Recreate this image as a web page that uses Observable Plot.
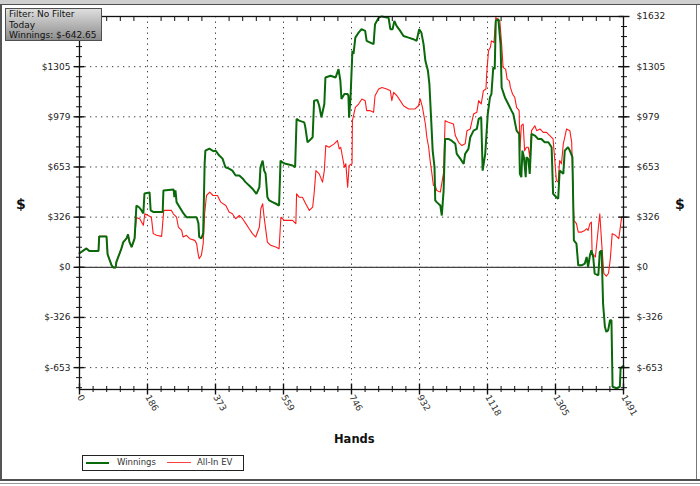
<!DOCTYPE html>
<html><head><meta charset="utf-8">
<script src="https://cdn.jsdelivr.net/npm/d3@7"></script>
<script src="https://cdn.jsdelivr.net/npm/@observablehq/plot@0.6"></script>
<style>
html,body{margin:0;padding:0;background:#fff;}
#wrap{position:relative;width:700px;height:486px;overflow:hidden;font-family:"DejaVu Sans",sans-serif;background:#fff;}
#chart svg{display:block;}
.abs{position:absolute;}
#filter{left:5px;top:8px;width:92px;height:31px;border:1px solid #505050;background:linear-gradient(#dedede,#8c8c8c);font-size:9px;line-height:10.5px;color:#111;padding:0 0 0 3px;white-space:nowrap;}
#legend{left:82px;top:455px;width:160px;height:14px;border:1px solid #222;background:#fff;font-size:8.5px;color:#333;}
.lab{font-weight:bold;color:#111;}
</style></head><body>
<div id="wrap">
  <div id="chart"></div>
  <div class="abs" style="left:0;top:0;width:700px;height:4px;background:#d0d0d0;border-bottom:1px solid #505050;"></div>
  <div class="abs" style="left:0;top:5px;width:2px;height:474px;background:#555;"></div>
  <div class="abs" style="left:696px;top:5px;width:1px;height:474px;background:#777;"></div>
  <div class="abs" style="left:0;top:479px;width:700px;height:2px;background:#505050;"></div>
  <div class="abs" style="left:0;top:483px;width:700px;height:1px;background:#999;"></div>
  <div id="filter" class="abs"><div>Filter: No Filter</div><div>Today</div><div>Winnings: $-642.65</div></div>
  <div class="abs lab" style="left:16px;top:196px;font-size:14px;">$</div>
  <div class="abs lab" style="left:675px;top:196px;font-size:14px;">$</div>
  <div class="abs lab" style="left:334px;top:432px;font-size:11.5px;">Hands</div>
  <div id="legend" class="abs">
    <div class="abs" style="left:3px;top:6px;width:23px;height:2px;background:#0a690a;"></div>
    <div class="abs" style="left:34px;top:1px;">Winnings</div>
    <div class="abs" style="left:84px;top:6px;width:24px;height:1px;background:#ff4040;"></div>
    <div class="abs" style="left:114px;top:1px;">All-In EV</div>
  </div>
</div>
<script>
// ---- data ----
const winHands = [0,19,27,52,54,74,77,81,88,93,99,101,110,115,120,129,133,137,143,151,
  156,164,170,175,178,192,195,203,228,230,258,260,263,266,280,285,293,321,326,328,334,339,343,345,356,367,
  373,383,392,400,410,419,428,438,447,455,465,474,485,493,496,502,506,510,515,520,529,537,547,551,556,565,584,591,
  595,602,616,619,625,630,639,643,652,657,663,671,674,688,702,710,715,718,726,735,737,739,743,
  748,751,756,765,773,783,787,797,806,810,820,828,847,852,858,863,869,879,888,902,915,924,931,937,943,948,955,959,
  964,968,970,973,975,979,989,993,998,1002,1011,1020,1030,1034,1044,1053,1057,1066,1071,1080,1089,1094,1101,1105,1112,
  1119,1125,1129,1134,1138,1141,1148,1154,1157,1166,1175,1184,1189,1198,1205,1207,1211,1214,1218,1223,1225,1230,1234,
  1239,1248,1257,1266,1275,1285,1294,1298,1307,1312,1316,1326,1330,1339,1344,1351,1355,1362,1367,1376,1385,1390,1394,
  1399,1403,1408,1412,1422,1426,1431,1435,1440,1444,1449,1454,1458,1461,1472,1481,1483,1490,1491];
const winValues = [91,123,106,106,201,201,84,58,13,-2,-2,34,91,123,164,188,214,164,132,188,
  402,389,370,350,480,487,370,359,359,500,506,456,500,424,370,350,326,326,286,197,188,221,675,759,772,755,
  759,727,707,651,642,629,597,597,578,554,532,511,478,521,651,694,629,610,456,435,424,415,402,694,683,673,662,651,
  965,954,943,910,813,824,846,1084,1088,1051,975,1062,1235,1246,1235,1289,1213,1095,1127,1127,1116,973,1116,
  1408,1389,1494,1527,1549,1538,1473,1462,1452,1581,1624,1632,1624,1549,1549,1603,1570,1538,1505,1494,1484,1473,1549,1527,1452,1343,1278,1192,
  954,759,716,651,435,424,402,337,500,835,835,824,803,738,705,673,738,770,846,889,900,965,975,629,738,
  997,1105,1127,1300,1289,1603,1614,1452,1170,1105,1062,1019,997,889,868,608,586,759,716,586,716,705,608,
  868,857,835,835,813,813,781,478,456,446,629,608,759,781,759,716,175,154,13,13,24,67,2,
  78,110,67,-41,-52,99,110,-236,-387,-420,-409,-344,-344,-777,-787,-777,-657,-643,-643];

const evHands = [0,19,27,52,54,74,77,81,88,93,99,101,110,115,120,129,133,137,143,151,
  156,165,175,179,188,197,202,211,225,231,252,257,266,271,280,284,293,302,316,321,325,328,334,339,343,348,357,366,
  378,387,401,410,419,428,438,447,456,465,474,483,493,497,502,506,515,524,538,547,552,561,584,593,
  595,602,611,620,630,639,643,648,657,666,671,675,684,698,707,712,716,721,726,730,735,739,747,
  748,756,765,774,783,787,797,806,810,820,829,842,852,856,861,870,879,888,902,920,929,934,940,948,952,957,961,966,
  970,975,979,989,998,1002,1011,1025,1030,1039,1048,1057,1062,1071,1080,1089,1094,1101,1107,1114,1116,1121,1126,1129,1136,
  1141,1152,1157,1161,1168,1172,1178,1181,1187,1193,1198,1205,1207,1211,1216,1220,1225,1230,1234,
  1239,1248,1253,1262,1271,1280,1289,1298,1302,1307,1312,1316,1321,1326,1335,1344,1349,1355,1362,1367,1376,1385,1390,1394,
  1399,1403,1405,1414,1426,1431,1437,1444,1450,1455,1460,1469,1478,1486,1491];
const evValues = [91,123,106,106,201,201,84,58,13,-2,-2,34,91,123,164,188,214,164,132,188,
  323,316,273,348,337,326,219,208,201,370,370,348,326,262,240,197,208,186,175,154,89,56,78,154,348,467,489,467,
  467,424,402,359,348,316,337,316,284,251,219,197,262,381,413,326,164,143,132,121,326,305,305,284,
  478,456,456,413,370,391,478,629,608,554,629,792,781,803,824,770,781,716,651,673,521,662,673,
  954,1040,1062,1095,1084,1019,1019,1008,1116,1160,1170,1160,1149,1084,1138,1116,1084,1051,1030,1030,1051,1095,1040,932,846,781,694,608,
  532,532,500,489,618,954,943,932,857,813,792,803,889,900,997,1008,1084,1062,1149,1160,1257,1408,1430,1473,1462,
  1624,1603,1452,1300,1289,1224,1213,1170,1127,1105,1040,1019,759,921,932,759,781,781,716,
  889,921,889,900,878,878,857,835,716,565,554,694,673,803,900,889,813,305,284,229,229,240,251,240,
  284,294,91,67,348,164,-39,-58,-39,58,219,208,186,326,326];

// axis ticks and labels
const xTicks = [0,186.375,372.75,559.125,745.5,931.875,1118.25,1304.625,1491];
const xTickLabels = ["0","186","373","559","746","932","1118","1305","1491"];
const yTicks = [-652.6,-326.3,0,326.3,652.6,978.9,1305.2,1631.5];
const yTickLabels = ["$-653","$-326","$0","$326","$653","$979","$1305","$1632"];
const yDomain = [-795, 1631.5];

// ---- build ----
const win = winHands.map((h,i)=>({hand:h, value:winValues[i]}));
const ev = evHands.map((h,i)=>({hand:h, value:evValues[i]}));
const xMinor = xTicks.slice(1).flatMap((t,i)=>[1,2,3,4].map(k=>xTicks[i]+(t-xTicks[i])*k/5));
const yStep = (yTicks[1]-yTicks[0])/5;
const yMinor = d3.range(-12, 26).map(k=>k*yStep).filter(v=>v>=yDomain[0]&&v<=yDomain[1]+0.01);
const xLab = d => xTickLabels[xTicks.indexOf(d)];
const yLab = d => yTickLabels[yTicks.indexOf(d)];
const blank = () => "";
// the top-left label sits under the filter box in the reference, so the left axis omits it
const yTicksLeft = yTicks.slice(0, -1);

const chart = Plot.plot({
  width: 700, height: 486,
  marginLeft: 79, marginRight: 77, marginTop: 16, marginBottom: 97,
  style: {fontFamily: "DejaVu Sans, sans-serif", background: "transparent", overflow: "visible"},
  x: {domain: [0, 1491], label: null},
  y: {domain: yDomain, label: null},
  marks: [
    Plot.gridX(xTicks, {stroke: "#222", strokeOpacity: 0.9, strokeDasharray: "1.3,4.2"}),
    Plot.gridY(yTicks, {stroke: "#222", strokeOpacity: 0.9, strokeDasharray: "1.3,4.2"}),
    Plot.ruleY([0], {stroke: "#444", strokeWidth: 1.2}),
    Plot.line(ev, {x: "hand", y: "value", stroke: "#ff1a1a", strokeWidth: 1.1}),
    Plot.line(win, {x: "hand", y: "value", stroke: "#0a690a", strokeWidth: 2, strokeLinejoin: "miter"}),
    Plot.frame({stroke: "#111", strokeWidth: 1.3}),
    // left axis
    Plot.axisY(yMinor, {anchor: "left", label: null, tickSize: 6, dx: 3, tickFormat: blank, stroke: "#111"}),
    Plot.axisY(yTicks, {anchor: "left", label: null, tickSize: 11, dx: 5.5, tickFormat: blank, stroke: "#111", strokeWidth: 1.4}),
    Plot.axisY(yTicksLeft, {anchor: "left", label: null, tickSize: 0, tickPadding: 9, tickFormat: yLab, fontSize: 9, fill: "#222"}),
    // right axis
    Plot.axisY(yMinor, {anchor: "right", label: null, tickSize: 6, dx: -3, tickFormat: blank, stroke: "#111"}),
    Plot.axisY(yTicks, {anchor: "right", label: null, tickSize: 11, dx: -5.5, tickFormat: blank, stroke: "#111", strokeWidth: 1.4}),
    Plot.axisY(yTicks, {anchor: "right", label: null, tickSize: 0, tickPadding: 13, tickFormat: yLab, fontSize: 9, fill: "#222"}),
    // bottom axis
    Plot.axisX(xMinor, {anchor: "bottom", label: null, tickSize: 6, dy: -3, tickFormat: blank, stroke: "#111"}),
    Plot.axisX(xTicks, {anchor: "bottom", label: null, tickSize: 11, dy: -5.5, tickFormat: blank, stroke: "#111", strokeWidth: 1.4}),
    Plot.axisX(xTicks, {anchor: "bottom", label: null, tickSize: 0, tickPadding: 6, tickRotate: 60, tickFormat: xLab, fontSize: 9, fill: "#333"}),
    // top minor ticks
    Plot.axisX(xMinor, {anchor: "top", label: null, tickSize: 4, dy: 4, tickFormat: blank, stroke: "#111"})
  ]
});
document.getElementById("chart").appendChild(chart);
</script>
</body></html>
